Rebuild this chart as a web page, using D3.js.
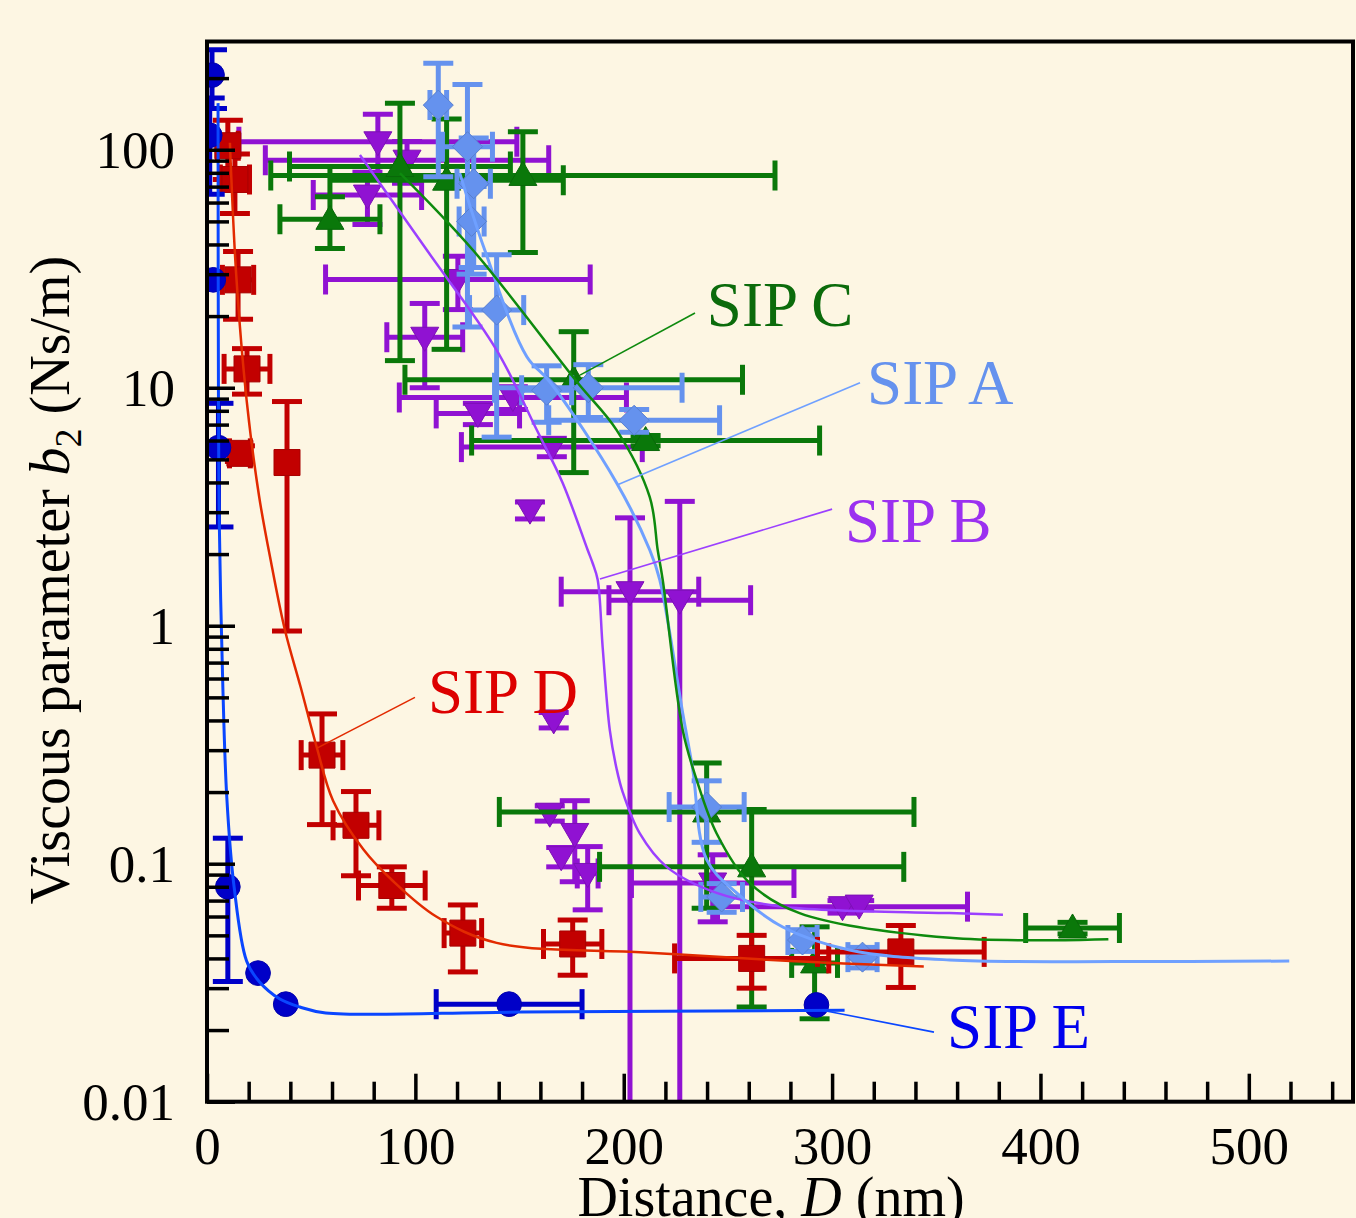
<!DOCTYPE html>
<html>
<head>
<meta charset="utf-8">
<script src="https://cdn.jsdelivr.net/npm/d3@7"></script>
<style>
html,body{margin:0;padding:0;background:#FDF6E3;}
svg{display:block;}
</style>
</head>
<body>
<svg id="chart" width="1356" height="1218"></svg>
<script>
// ---------------- DATA ----------------
const xTickValues = [0, 100, 200, 300, 400, 500];
const xTickLabels = ["0", "100", "200", "300", "400", "500"];
const yTickValues = [0.01, 0.1, 1, 10, 100];
const yTickLabels = ["0.01", "0.1", "1", "10", "100"];

// SIP A (light blue diamonds)
const sipA_D     = [111, 125, 128, 127, 139, 163, 183, 205, 239.8, 247, 285.8, 314.6];
const sipA_b2    = [154, 103, 72, 50, 21.2, 9.76, 10.0, 7.3, 0.173, 0.0725, 0.0478, 0.0405];
const sipA_Derr  = [4, 12, 8, 6, 13, 12, 45, 41, 18, 10, 7, 7];
const sipA_b2err = [77, 85, 40, 20, 15, 2.6, 2.5, 0.8, 0.05, 0.01, 0.005, 0.004];
const sipA_fitD  = [121.3, 133.3, 153.5, 164.5, 196.6, 212.5, 217.3, 228.3, 233.1, 239.8, 254.2, 276.3, 308.4, 356.4, 440, 519.4];
const sipA_fitB  = [79.8, 37.9, 13.5, 10.6, 3.98, 2.08, 1.56, 0.43, 0.25, 0.104, 0.0754, 0.0542, 0.0434, 0.0394, 0.0388, 0.039];

// SIP B (purple inverted triangles)
const sipB_D     = [82, 96, 77, 120.4, 104.5, 130, 146.8, 165.5, 155, 203, 226.9, 166.4, 164.5, 176.5, 170, 182.7, 242.7, 305, 313];
const sipB_b2    = [108, 90.4, 64.5, 28.5, 16.3, 7.8, 9.1, 5.63, 3.06, 1.39, 1.28, 0.402, 0.163, 0.134, 0.107, 0.091, 0.083, 0.066, 0.067];
const sipB_Derr  = [66.7, 68, 26, 63.5, 18.2, 20, 54.5, 43.4, 0, 33, 34, 0, 0, 0, 0, 5, 39, 60, 0];
const sipB_b2err = [33, 18, 16, 7.2, 6.3, 0.8, 1.0, 0.5, 0.25, 1.45, 2.05, 0.03, 0.012, 0.05, 0.01, 0.027, 0.026, 0.004, 0.003];
const sipB_fitD  = [73.4, 105.5, 139, 158.3, 170.7, 182.7, 185.1, 187.5, 189.9, 193.3, 196.6, 199.5, 207.7, 220.6, 244.6, 276.3, 356.4, 382];
const sipB_fitB  = [95, 37.9, 14.4, 6.64, 3.98, 2.08, 1.83, 1.56, 0.81, 0.365, 0.25, 0.2, 0.134, 0.097, 0.0754, 0.066, 0.062, 0.061];

// SIP C (green triangles)
const sipC_D     = [59, 92.6, 115, 151.6, 176, 210.5, 239.8, 261.4, 291.6, 415.4];
const sipC_b2    = [51, 85, 74.5, 78, 10.8, 6.0, 0.165, 0.097, 0.0383, 0.0537];
const sipC_Derr  = [24, 53, 56, 121, 81, 83.5, 99.5, 73, 11, 22.5];
const sipC_b2err = [12.5, 72, 60, 41, 6.4, 0.3, 0.1, 0.072, 0.016, 0.003];
const sipC_fitD  = [92.6, 127.6, 177.5, 196.6, 212.5, 216.3, 218.7, 228.3, 235, 244.6, 260.4, 284.4, 356.4, 432.6];
const sipC_fitB  = [79.8, 37.9, 10.6, 6.64, 3.47, 2.08, 1.56, 0.365, 0.225, 0.134, 0.083, 0.062, 0.0488, 0.0482];

// SIP D (red squares)
const sipD_D     = [10, 13.4, 14.9, 19.2, 15.8, 38.4, 55.2, 71.5, 88.7, 122.8, 175.5, 261.4, 333];
const sipD_b2    = [104, 75, 28.4, 12.0, 5.3, 4.85, 0.286, 0.145, 0.081, 0.0511, 0.046, 0.040, 0.0426];
const sipD_Derr  = [5, 7, 7.5, 11, 5, 0, 10, 11, 16, 9, 14, 37, 40];
const sipD_b2err = [29, 21, 9, 2.6, 0.4, 3.9, 0.14, 0.056, 0.016, 0.016, 0.012, 0.010, 0.0124];
const sipD_fitD  = [11, 14, 19, 25, 31, 37.4, 45, 52.6, 60.5, 75, 89, 110, 139, 210, 280, 344];
const sipD_fitB  = [107, 30, 8.9, 3.5, 1.8, 0.96, 0.55, 0.31, 0.184, 0.115, 0.085, 0.06, 0.0465, 0.0424, 0.039, 0.037];

// SIP E (blue circles)
const sipE_D     = [1.3, 2.4, 3.0, 5.5, 10.0, 24.5, 37.8, 145, 292.5];
const sipE_b2    = [115, 206, 28.4, 5.6, 0.080, 0.0347, 0.0257, 0.0257, 0.0255];
const sipE_Derr  = [0, 0, 0, 0, 0, 0, 0, 35, 0];
const sipE_b2err = [50, 57, 0, 3.0, 0.048, 0, 0, 0, 0];
const sipE_fitD  = [5.3, 5.5, 5.9, 7.5, 9.5, 13, 19, 25, 35, 44.6, 57, 150, 306];
const sipE_fitB  = [157, 9, 2.7, 0.6, 0.19, 0.08, 0.039, 0.032, 0.027, 0.025, 0.0236, 0.0238, 0.0242];

// annotation labels (data coordinates)
const labelNames = ["SIP C", "SIP A", "SIP B", "SIP D", "SIP E"];
const labelD     = [239.9, 316.8, 306.2, 106.1, 355.2];
const labelB     = [18.2, 8.55, 2.25, 0.43, 0.0168];
const leaderD1   = [234.2, 313.4, 300, 99.8, 348.9];
const leaderB1   = [20.6, 10.5, 3.09, 0.50, 0.0196];
const leaderD2   = [179.0, 196.8, 188.6, 52.8, 294.7];
const leaderB2   = [11.3, 3.9, 1.57, 0.306, 0.0243];

// ---------------- STYLE ----------------
const W = 1356, H = 1218;
const pLeft = 207, pRight = 1353, pTop = 41.5, pBottom = 1101.7;
const BG = "#FDF6E3";
const FONT = "'Liberation Serif', 'Times New Roman', serif";

const svg = d3.select("#chart");
svg.append("rect").attr("width", W).attr("height", H).attr("fill", BG);

const x = d3.scaleLinear().domain([0, 550]).range([pLeft, pRight]);
const y = d3.scaleLog().domain([0.01, 285]).range([pBottom, pTop]);

svg.append("defs").append("clipPath").attr("id", "plotclip")
  .append("rect").attr("x", pLeft).attr("y", pTop).attr("width", pRight - pLeft).attr("height", pBottom - pTop);

const plot = svg.append("g").attr("clip-path", "url(#plotclip)");

function series(D, B, De, Be, color, marker) {
  return D.map((d, i) => ({d, b: B[i], de: De[i], be: Be[i], color, marker}));
}

const seriesList = [
  {pts: series(sipB_D, sipB_b2, sipB_Derr, sipB_b2err, "#9012D2", "tdown")},
  {pts: series(sipC_D, sipC_b2, sipC_Derr, sipC_b2err, "#0A780A", "tup")},
  {pts: series(sipA_D, sipA_b2, sipA_Derr, sipA_b2err, "#6592EE", "diamond")},
  {pts: series(sipD_D, sipD_b2, sipD_Derr, sipD_b2err, "#C20000", "square")},
  {pts: series(sipE_D, sipE_b2, sipE_Derr, sipE_b2err, "#0000C8", "circle")},
];

const EW = 5, CAP = 15;
const ymin = y.domain()[0];

seriesList.forEach(s => {
  const g = plot.append("g");
  const eb = g.selectAll("g.eb").data(s.pts).join("g").attr("class", "eb")
    .attr("stroke", d => d.color).attr("stroke-width", EW).attr("fill", "none");
  eb.each(function(p) {
    const sel = d3.select(this);
    const cx = x(p.d), cy = y(p.b);
    if (p.be > 0) {
      const hiV = p.b + p.be, loV = p.b - p.be;
      const yHi = y(hiV);
      const clipped = loV <= ymin;
      const yLo = clipped ? pBottom + 5 : y(loV);
      sel.append("line").attr("x1", cx).attr("x2", cx).attr("y1", yHi).attr("y2", yLo);
      sel.append("line").attr("x1", cx - CAP).attr("x2", cx + CAP).attr("y1", yHi).attr("y2", yHi);
      if (!clipped) sel.append("line").attr("x1", cx - CAP).attr("x2", cx + CAP).attr("y1", yLo).attr("y2", yLo);
    }
    if (p.de > 0) {
      const xl = x(p.d - p.de), xr = x(p.d + p.de);
      sel.append("line").attr("x1", xl).attr("x2", xr).attr("y1", cy).attr("y2", cy);
      sel.append("line").attr("x1", xl).attr("x2", xl).attr("y1", cy - CAP).attr("y2", cy + CAP);
      sel.append("line").attr("x1", xr).attr("x2", xr).attr("y1", cy - CAP).attr("y2", cy + CAP);
    }
  });
  g.selectAll("path.mk").data(s.pts).join("path").attr("class", "mk")
    .attr("transform", p => `translate(${x(p.d)},${y(p.b)})`)
    .attr("fill", p => p.color)
    .attr("stroke", p => d3.color(p.color).darker(0.4))
    .attr("stroke-width", 1)
    .attr("d", p => {
      switch (p.marker) {
        case "square": return "M-13,-13H13V13H-13Z";
        case "circle": return d3.symbol(d3.symbolCircle, 480)();
        case "tup": return "M0,-14L14,10L-14,10Z";
        case "tdown": return "M0,14L14,-10L-14,-10Z";
        case "diamond": return "M0,-15L15,0L0,15L-15,0Z";
      }
    });
});

// fit curves
const fits = [
  {D: sipB_fitD, B: sipB_fitB, color: "#9B40FF", w: 2.5},
  {D: sipA_fitD, B: sipA_fitB, color: "#6FA0FF", w: 3},
  {D: sipC_fitD, B: sipC_fitB, color: "#0E8A0E", w: 2.5},
  {D: sipD_fitD, B: sipD_fitB, color: "#E22A00", w: 2.5},
  {D: sipE_fitD, B: sipE_fitB, color: "#0A46FF", w: 3},
];
const line = d3.line().x(p => x(p[0])).y(p => y(p[1])).curve(d3.curveCatmullRom.alpha(0.5));
fits.forEach(f => {
  plot.append("path").datum(f.D.map((d, i) => [d, f.B[i]]))
    .attr("d", line).attr("fill", "none").attr("stroke", f.color).attr("stroke-width", f.w);
});

// labels
const labelColors = ["#0B6B0B", "#6592EE", "#9B30F0", "#DD0000", "#0000EE"];
const leaderColors = ["#0E8A0E", "#6FA0FF", "#9B40FF", "#E22A00", "#0A46FF"];
labelNames.forEach((t, i) => {
  svg.append("line")
    .attr("x1", x(leaderD1[i])).attr("y1", y(leaderB1[i]))
    .attr("x2", x(leaderD2[i])).attr("y2", y(leaderB2[i]))
    .attr("stroke", leaderColors[i]).attr("stroke-width", 1.6);
  svg.append("text").attr("x", x(labelD[i])).attr("y", y(labelB[i]))
    .attr("font-family", FONT).attr("font-size", 63).attr("fill", labelColors[i]).text(t);
});

// axes
const xMinor = d3.range(0, 551, 20).filter(v => v % 100 !== 0);
const yMinor = [];
[0.01, 0.1, 1, 10, 100].forEach(dec => { for (let k = 2; k <= 9; k++) { const v = dec * k; if (v <= 285) yMinor.push(v); } });

const axX = svg.append("g").attr("transform", `translate(0,${pBottom})`);
axX.append("g").call(d3.axisBottom(x).tickValues(xMinor).tickSize(-20).tickFormat(""));
axX.append("g").call(d3.axisBottom(x).tickValues(xTickValues).tickSize(-28).tickPadding(0)
  .tickFormat((d, i) => xTickLabels[i]));
axX.selectAll(".domain").remove();
axX.selectAll("line").attr("stroke", "#000").attr("stroke-width", 3.5);
axX.selectAll("text").attr("font-family", FONT).attr("font-size", 53).attr("fill", "#000")
  .attr("dy", null).attr("y", 62);

const axY = svg.append("g").attr("transform", `translate(${pLeft},0)`);
axY.append("g").call(d3.axisLeft(y).tickValues(yMinor).tickSize(-22).tickFormat(""));
axY.append("g").call(d3.axisLeft(y).tickValues(yTickValues).tickSize(-28).tickPadding(0)
  .tickFormat((d, i) => yTickLabels[i]));
axY.selectAll(".domain").remove();
axY.selectAll("line").attr("stroke", "#000").attr("stroke-width", 3.5);
axY.selectAll("text").attr("font-family", FONT).attr("font-size", 53).attr("fill", "#000")
  .attr("x", -32).attr("dy", "0.34em");

// frame
svg.append("rect").attr("x", pLeft).attr("y", pTop).attr("width", pRight - pLeft).attr("height", pBottom - pTop)
  .attr("fill", "none").attr("stroke", "#000").attr("stroke-width", 4);

// axis titles
const xt = svg.append("text").attr("x", 771).attr("y", 1216).attr("text-anchor", "middle")
  .attr("font-family", FONT).attr("font-size", 56).attr("fill", "#000");
xt.append("tspan").text("Distance, ");
xt.append("tspan").attr("font-style", "italic").text("D");
xt.append("tspan").text(" (nm)");

const yt = svg.append("text").attr("transform", "translate(69,580) rotate(-90)").attr("text-anchor", "middle")
  .attr("font-family", FONT).attr("font-size", 56).attr("fill", "#000");
yt.append("tspan").text("Viscous parameter ");
yt.append("tspan").attr("font-style", "italic").text("b");
yt.append("tspan").attr("font-size", 38).attr("dy", 12).text("2");
yt.append("tspan").attr("dy", -12).text(" (Ns/m)");
</script>
</body>
</html>
